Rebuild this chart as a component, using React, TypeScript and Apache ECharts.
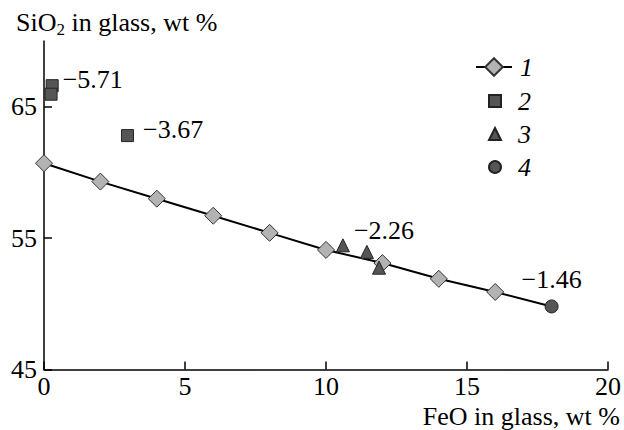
import { useEffect, useRef } from "react";
import * as echarts from "echarts";

const feo1 = [0, 2, 4, 6, 8, 10, 12, 14, 16, 18];
const sio1 = [60.7, 59.3, 58.0, 56.7, 55.4, 54.1, 53.1, 51.9, 50.9, 49.8];
const feo2 = [0.29, 0.25, 2.96];
const sio2 = [66.6, 65.95, 62.8];
const feo3 = [10.6, 11.45, 11.88];
const sio3 = [54.45, 53.95, 52.75];
const feo4 = [18.0];
const sio4 = [49.8];
const seriesNames = ["1", "2", "3", "4"];
const pointLabels = ["−5.71", "−3.67", "−2.26", "−1.46"];
const yTicks = [45, 55, 65];
const xTicks = [0, 5, 10, 15, 20];

const FONT = "Liberation Serif";
const FS = 26;
const richA = { fontFamily: FONT, fontSize: FS, color: "#000", lineHeight: 26 };
const richI = { fontFamily: FONT, fontSize: FS, fontStyle: "italic", color: "#000", lineHeight: 26 };

export default function App() {
  const ref = useRef<HTMLDivElement>(null);
  useEffect(() => {
    const chart = echarts.init(ref.current!, null, { renderer: "svg" });
    const lbl = (text: string, extra: any) => ({
      show: true,
      formatter: `{a|${text}}`,
      fontFamily: FONT,
      fontSize: FS,
      rich: { a: richA },
      ...extra,
    });
    chart.setOption({
      animation: false,
      backgroundColor: "#fff",
      textStyle: { fontFamily: FONT, fontSize: FS, color: "#000" },
      grid: { left: 44, right: 16, top: 41, bottom: 60.5 },
      legend: [
        {
          orient: "vertical",
          left: 475,
          top: 54,
          padding: 0,
          itemWidth: 36,
          itemHeight: 22,
          data: [seriesNames[0]],
          formatter: "{a|{name}}",
          textStyle: { fontFamily: FONT, fontSize: FS, padding: [0, 0, 0, 3], rich: { a: richI } },
        },
        {
          orient: "vertical",
          left: 488,
          top: 88,
          padding: 0,
          itemWidth: 12,
          itemHeight: 12,
          itemGap: 7,
          data: seriesNames.slice(1),
          formatter: "{a|{name}}",
          textStyle: { fontFamily: FONT, fontSize: FS, padding: [0, 0, 0, 12], rich: { a: richI } },
        },
      ],
      xAxis: {
        type: "value",
        min: 0,
        max: 20,
        interval: 5,
        axisLine: { lineStyle: { color: "#000", width: 1.5 } },
        axisTick: { inside: true, length: 8, lineStyle: { color: "#000", width: 1.5 }, customValues: xTicks },
        axisLabel: {
          fontFamily: FONT,
          fontSize: FS,
          margin: 4,
          customValues: xTicks,
          formatter: (v: number) => `{a|${v}}`,
          rich: { a: richA },
        },
        splitLine: { show: false },
      },
      yAxis: {
        type: "value",
        min: 45,
        max: 70,
        axisLine: { show: true, lineStyle: { color: "#000", width: 1.5 } },
        axisTick: { show: true, inside: true, length: 8, lineStyle: { color: "#000", width: 1.5 }, customValues: yTicks },
        axisLabel: {
          fontFamily: FONT,
          fontSize: FS,
          margin: 7,
          customValues: yTicks,
          formatter: (v: number) => `{a|${v}}`,
          rich: { a: richA },
        },
        splitLine: { show: false },
      },
      graphic: [
        {
          type: "text",
          left: 16,
          top: 7,
          style: {
            text: "{a|SiO}{s|2}{a| in glass, wt %}",
            rich: {
              a: { fontFamily: FONT, fontSize: FS, fill: "#000", lineHeight: 26 },
              s: { fontFamily: FONT, fontSize: 17, fill: "#000", padding: [14, 0, 0, 0], lineHeight: 17 },
            },
          },
        },
        {
          type: "text",
          right: 4,
          top: 403,
          style: {
            text: "{a|FeO in glass, wt %}",
            rich: { a: { fontFamily: FONT, fontSize: FS, fill: "#000", lineHeight: 26 } },
          },
        },
      ],
      series: [
        {
          name: seriesNames[0],
          type: "line",
          symbol: "diamond",
          symbolSize: 17,
          itemStyle: { color: "#b3b3b3", borderColor: "#333", borderWidth: 1 },
          lineStyle: { color: "#000", width: 2 },
          data: feo1.map((x, i) =>
            i === feo1.length - 1 ? { value: [x, sio1[i]], symbolSize: 0 } : [x, sio1[i]]
          ),
          z: 2,
        },
        {
          name: seriesNames[1],
          type: "scatter",
          symbol: "rect",
          symbolSize: 12,
          itemStyle: { color: "#555", borderColor: "#222", borderWidth: 1, opacity: 1 },
          data: feo2.map((x, i) => {
            if (i === 0) return { value: [x, sio2[i]], label: lbl(pointLabels[0], { position: "right", distance: 4, offset: [0, -6] }) };
            if (i === 2) return { value: [x, sio2[i]], label: lbl(pointLabels[1], { position: "right", distance: 9, offset: [0, -6] }) };
            return [x, sio2[i]];
          }),
          z: 3,
        },
        {
          name: seriesNames[2],
          type: "scatter",
          symbol: "triangle",
          symbolSize: 13,
          itemStyle: { color: "#555", borderColor: "#222", borderWidth: 1, opacity: 1 },
          data: feo3.map((x, i) =>
            i === 0 ? { value: [x, sio3[i]], label: lbl(pointLabels[2], { position: "right", distance: 4, offset: [0, -15] }) } : [x, sio3[i]]
          ),
          z: 3,
        },
        {
          name: seriesNames[3],
          type: "scatter",
          symbol: "circle",
          symbolSize: 13,
          itemStyle: { color: "#555", borderColor: "#222", borderWidth: 1, opacity: 1 },
          data: feo4.map((x, i) => ({ value: [x, sio4[i]], label: lbl(pointLabels[3], { position: "top", distance: 7 }) })),
          z: 3,
        },
      ],
    });
    return () => chart.dispose();
  }, []);
  return <div ref={ref} style={{ position: "fixed", left: 0, top: 0, width: 624, height: 430 }} />;
}
